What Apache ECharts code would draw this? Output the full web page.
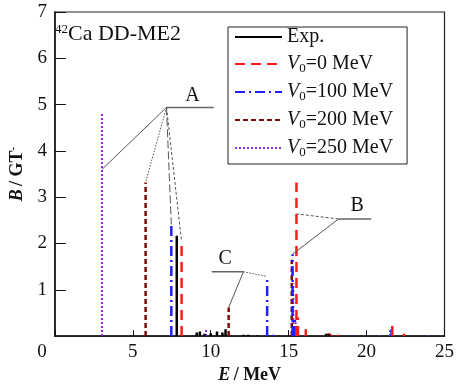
<!DOCTYPE html>
<html><head><meta charset="utf-8">
<script src="https://cdn.jsdelivr.net/npm/echarts@6/dist/echarts.min.js"></script>
<style>html,body{margin:0;padding:0;background:#fff}#c{width:457px;height:389px}</style>
</head><body><div id="c"></div>
<script>
// Stick spectra: [E (MeV), B (GT-)]
const expData = [[7.82,2.17],[9.1,0.08],[9.3,0.1],[9.6,0.05],[10.0,0.06],[10.4,0.1],[10.75,0.08],[10.95,0.15],[12.1,0.03],[12.4,0.03],[13.0,0.02],[17.4,0.05],[17.6,0.04]];
const v0Data = [[8.13,2.04],[15.5,3.32],[15.6,0.4],[16.1,0.15],[17.6,0.06],[17.7,0.04],[18.2,0.03],[21.65,0.22],[22.4,0.05]];
const v100Data = [[7.47,2.41],[13.62,1.29],[14.0,0.03],[15.25,1.77],[15.4,0.4],[19.1,0.02],[21.6,0.15]];
const v200Data = [[5.82,3.32],[11.15,0.62],[15.2,1.65],[15.5,0.05],[17.5,0.05]];
const v250Data = [[3.02,4.82],[9.7,0.15],[14.0,0.02],[15.3,1.14],[15.45,0.3],[20.8,0.02],[21.5,0.12],[23.9,0.02]];
const seriesNames = ['Exp.','V0=0 MeV','V0=100 MeV','V0=200 MeV','V0=250 MeV'];
const xTicks = [0,5,10,15,20,25];
const yTicks = [0,1,2,3,4,5,6,7];
// annotation anchors in data coordinates
const annA = {label:[8.83,5.2], hub:[7.16,4.94], end:[10.19,4.94], targets:[[3.02,3.6,'solid'],[5.82,3.32,'dot'],[7.47,2.41,'long'],[8.13,2.04,'dash']]};
const annB = {label:[19.4,2.81], hub:[18.2,2.53], end:[20.3,2.53], targets:[[15.5,2.64,'dash'],[15.25,1.77,'solid']]};
const annC = {label:[10.93,1.67], hub:[12.1,1.39], end:[10.06,1.39], targets:[[11.15,0.62,'solid'],[13.62,1.29,'dot']]};

function sticks(arr){
  const out=[];
  arr.forEach(p=>{out.push([p[0],0]);out.push([p[0],p[1]]);out.push([p[0],'-']);});
  return out;
}
const serif='Liberation Serif';
const chart = echarts.init(document.getElementById('c'));
const styles = [
  {color:'#000000', width:2.5, type:'solid'},
  {color:'#ff1a1a', width:2.5, type:[10,6]},
  {color:'#1f1fff', width:2.5, type:[10,4,2,4]},
  {color:'#7a0a0a', width:2.5, type:[5,3]},
  {color:'#8a2be2', width:2, type:[2,2]}
];
const datas=[expData,v0Data,v100Data,v200Data,v250Data];
const series = datas.map((d,i)=>({
  name: seriesNames[i], type:'line', data: sticks(d), symbol:'none', showSymbol:false,
  connectNulls:false, color: styles[i].color,
  itemStyle:{opacity:0},
  lineStyle:{color:styles[i].color,width:styles[i].width,type:styles[i].type},
  z: 5-i, animation:false
}));
chart.setOption({
  animation:false,
  grid:{left:45,right:7,top:12,bottom:51,show:true,borderColor:'#222',borderWidth:1.2},
  legend:{
    data:seriesNames, orient:'vertical', left:228, top:27, itemWidth:47, itemHeight:20, itemGap:6,
    borderColor:'#222', borderWidth:1, padding:[0,14,5,6], backgroundColor:'#fff',
    itemStyle:{opacity:0},
    formatter: n => n==='Exp.' ? '{t|Exp.}' : '{i|V}{s|0}{t|' + n.slice(2) + '}',
    textStyle:{fontFamily:serif,fontSize:20,color:'#111',lineHeight:20, rich:{t:{fontFamily:serif,fontSize:20,color:'#111',lineHeight:20},i:{fontStyle:'italic',fontFamily:serif,fontSize:20,color:'#111',lineHeight:20}, s:{fontFamily:serif,fontSize:13,color:'#111',lineHeight:20,padding:[9,0,0,0]}}}
  },
  xAxis:{type:'value',min:0,max:25,interval:5,
    name:'{b|E} {n|/ MeV}', nameLocation:'middle', nameGap:19,
    nameTextStyle:{rich:{b:{fontFamily:serif,fontWeight:'bold',fontStyle:'italic',fontSize:18,color:'#111'},n:{fontFamily:serif,fontWeight:'bold',fontSize:18,color:'#111'}}},
    axisLine:{lineStyle:{color:'#111',width:1.5}}, axisTick:{inside:true,length:6,lineStyle:{color:'#111'}},
    splitLine:{show:false},
    axisLabel:{fontFamily:serif,fontSize:19,color:'#111',margin:6,
      formatter: v => v===0 ? '{z|0}' : String(v), rich:{z:{fontFamily:serif,fontSize:19,color:'#111',padding:[0,26,0,0]}}}},
  yAxis:{type:'value',min:0,max:7,interval:1,
    name:'{b|B} {n|/ GT}{s|-}', nameLocation:'middle', nameGap:24,
    nameTextStyle:{rich:{b:{fontFamily:serif,fontWeight:'bold',fontStyle:'italic',fontSize:18,color:'#111'},n:{fontFamily:serif,fontWeight:'bold',fontSize:18,color:'#111'},s:{fontFamily:serif,fontWeight:'bold',fontSize:11,color:'#111',padding:[0,0,8,0]}}},
    axisLine:{lineStyle:{color:'#111',width:1.5}}, axisTick:{inside:true,length:11,lineStyle:{color:'#111'}},
    splitLine:{show:false},
    axisLabel:{fontFamily:serif,fontSize:19,color:'#111',margin:8, showMinLabel:false}},
  series: series
});
const P = p => chart.convertToPixel({gridIndex:0}, [p[0],p[1]]);
const dashes = {solid:null, dot:[1.5,1.5], long:[8,3], dash:[3,2]};
const gfx=[];
[['A',annA],['B',annB],['C',annC]].forEach(([lab,a])=>{
  const h=P(a.hub), e=P(a.end), l=P(a.label);
  gfx.push({type:'line',shape:{x1:h[0],y1:h[1],x2:e[0],y2:e[1]},style:{stroke:'#666',lineWidth:1.5},z:50});
  a.targets.forEach(t=>{const q=P(t);
    gfx.push({type:'line',shape:{x1:h[0],y1:h[1],x2:q[0],y2:q[1]},style:{stroke:'#555',lineWidth:1,lineDash:dashes[t[2]]},z:50});});
  gfx.push({type:'text',x:l[0],y:l[1],style:{text:lab,font:'20px "Liberation Serif"',fill:'#111',align:'center',verticalAlign:'middle'},z:50});
});
gfx.push({type:'text',left:55,top:23,style:{rich:{sup:{font:'13px "Liberation Serif"',fill:'#111',padding:[0,0,8,0]},m:{font:'22px "Liberation Serif"',fill:'#111'}},text:'{sup|42}{m|Ca DD-ME2}'},z:50});
chart.setOption({graphic:gfx});
</script></body></html>
